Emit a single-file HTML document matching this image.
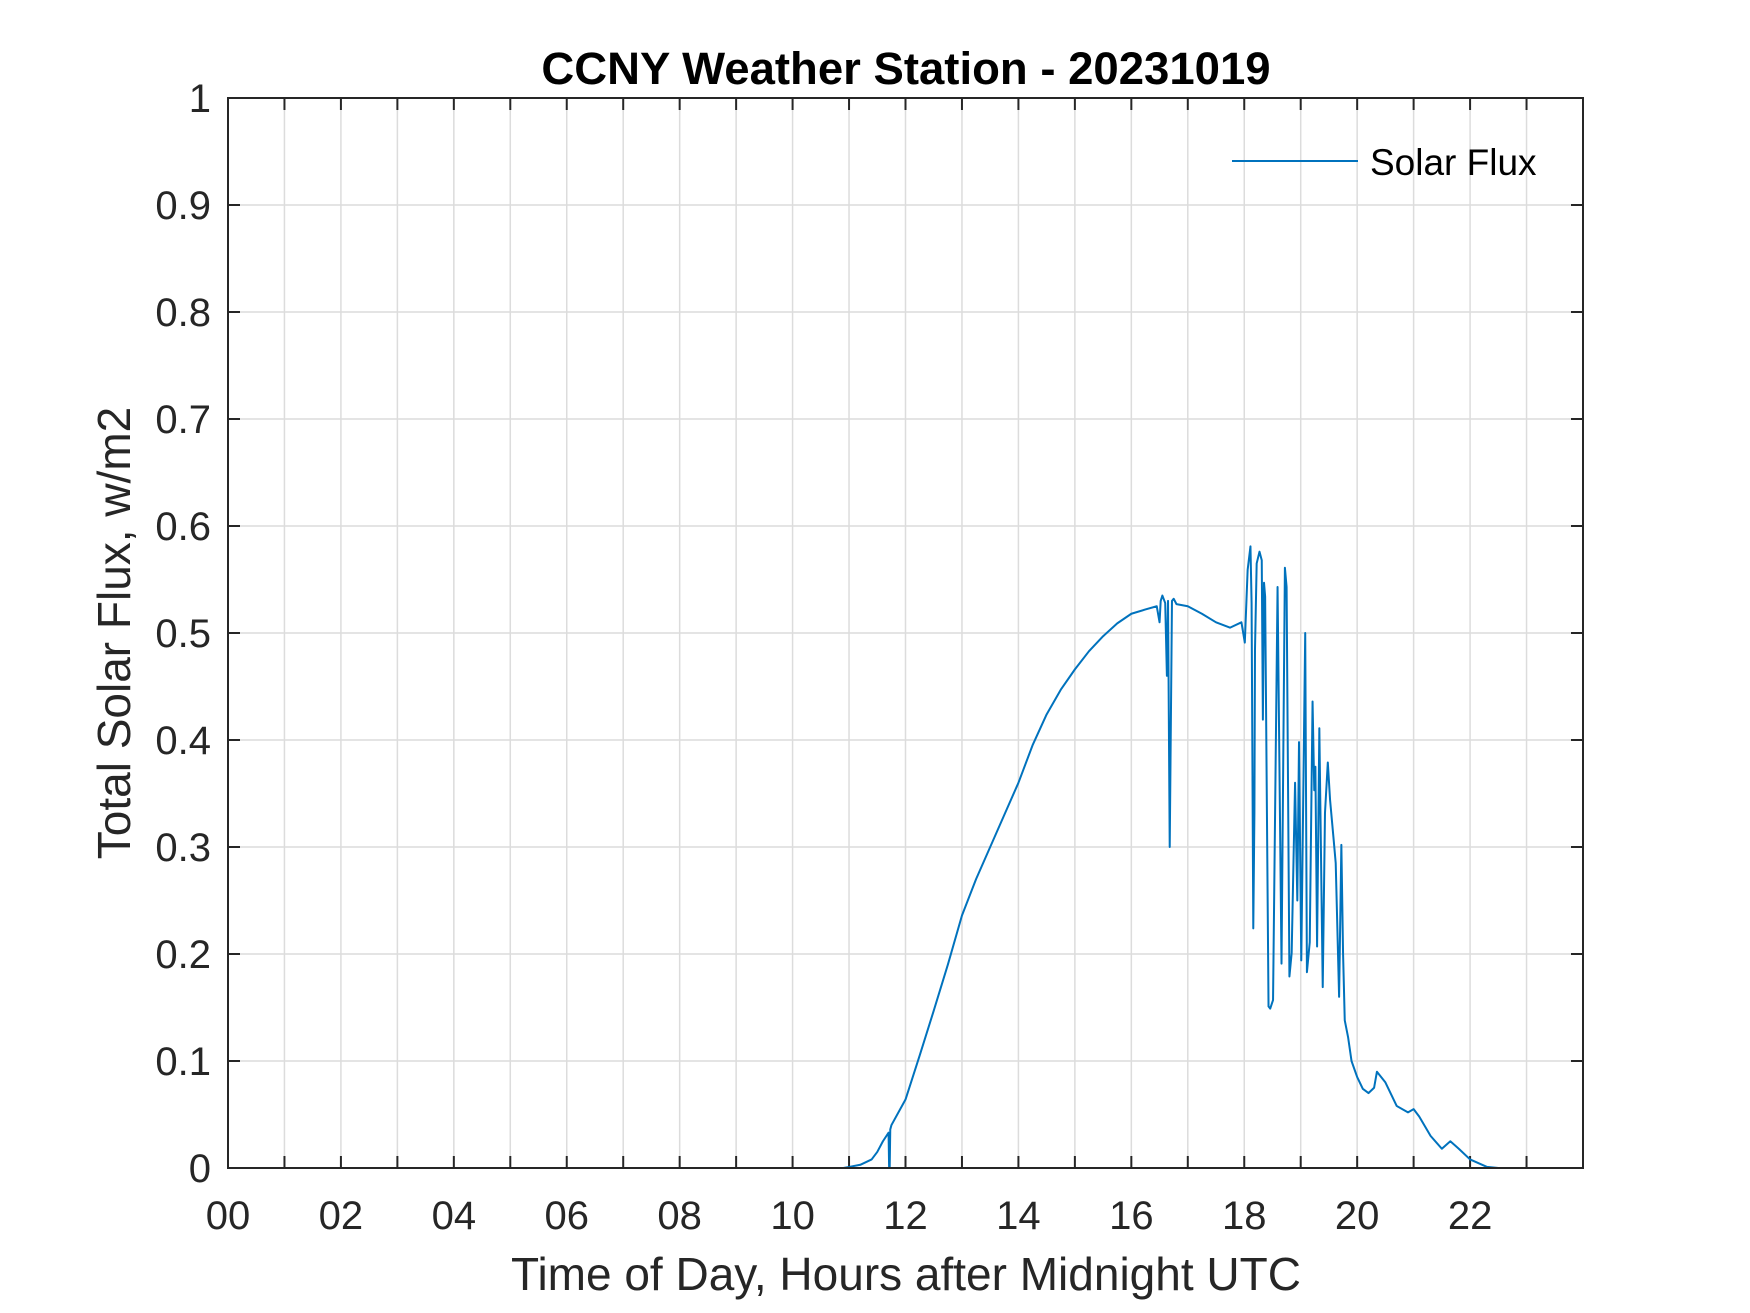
<!DOCTYPE html>
<html><head><meta charset="utf-8"><style>
body{margin:0;background:#fff;}
svg{display:block;font-family:"Liberation Sans",Arial,sans-serif;}
</style></head><body>
<svg id="chart" width="1750" height="1313" viewBox="0 0 1750 1313" xmlns="http://www.w3.org/2000/svg">
<rect x="0" y="0" width="1750" height="1313" fill="#fff"/>
<g id="grid"></g>
<g id="ticks"></g>
<g id="series"></g>
<rect x="228" y="98" width="1355" height="1070" fill="none" stroke="#262626" stroke-width="2"/>
<text x="906" y="84" text-anchor="middle" font-size="45.5" font-weight="bold" fill="#000">CCNY Weather Station - 20231019</text>
<text x="906" y="1290" text-anchor="middle" font-size="46" fill="#262626">Time of Day, Hours after Midnight UTC</text>
<text transform="translate(130,633) rotate(-90)" text-anchor="middle" font-size="46" fill="#262626">Total Solar Flux, w/m2</text>
<g>
<line x1="1232" y1="161" x2="1358" y2="161" stroke="#0072BD" stroke-width="2"/>
<text x="1370" y="175" font-size="37" fill="#000">Solar Flux</text>
</g>
</svg>
<script>
const hours = [0,10.9,11.0,11.2,11.4,11.5,11.6,11.7,11.71,11.72,11.73,11.75,12.0,12.25,12.5,12.75,13.0,13.25,13.5,13.75,14.0,14.25,14.5,14.75,15.0,15.25,15.5,15.75,16.0,16.25,16.45,16.5,16.52,16.55,16.6,16.63,16.65,16.68,16.72,16.75,16.8,17.0,17.25,17.5,17.75,17.95,18.01,18.06,18.11,18.13,18.16,18.18,18.19,18.22,18.27,18.31,18.33,18.35,18.37,18.43,18.46,18.51,18.59,18.66,18.72,18.75,18.80,18.84,18.90,18.94,18.97,19.01,19.08,19.11,19.16,19.21,19.24,19.26,19.29,19.33,19.39,19.43,19.48,19.52,19.58,19.62,19.68,19.72,19.75,19.78,19.84,19.9,20.0,20.1,20.2,20.3,20.35,20.5,20.7,20.9,21.0,21.1,21.3,21.5,21.65,21.8,22.0,22.3,22.5,24];
const flux = [0,0,0.001,0.003,0.008,0.015,0.025,0.033,0.0,0.0,0.036,0.04,0.064,0.105,0.147,0.19,0.236,0.27,0.30,0.33,0.36,0.395,0.424,0.447,0.466,0.483,0.497,0.509,0.518,0.522,0.525,0.51,0.53,0.535,0.528,0.46,0.53,0.30,0.53,0.532,0.527,0.525,0.518,0.51,0.505,0.51,0.491,0.559,0.581,0.528,0.224,0.332,0.484,0.565,0.576,0.568,0.419,0.547,0.534,0.151,0.149,0.157,0.543,0.191,0.561,0.543,0.179,0.201,0.360,0.250,0.398,0.194,0.500,0.183,0.211,0.436,0.353,0.375,0.207,0.411,0.169,0.332,0.379,0.344,0.309,0.285,0.160,0.302,0.201,0.138,0.122,0.1,0.085,0.074,0.07,0.075,0.09,0.08,0.058,0.052,0.055,0.048,0.03,0.018,0.025,0.018,0.008,0.001,0,0];
const xTickLabels = ["00","02","04","06","08","10","12","14","16","18","20","22"];
const yTickLabels = ["0","0.1","0.2","0.3","0.4","0.5","0.6","0.7","0.8","0.9","1"];

const NS="http://www.w3.org/2000/svg";
const L=228,R=1583,T=98,B=1168;
const xs=h=>L+(h/24)*(R-L);
const ys=v=>B-(v/1)*(B-T);
function mk(tag,parent,attrs){const e=document.createElementNS(NS,tag);for(const k in attrs)e.setAttribute(k,attrs[k]);parent.appendChild(e);return e;}
const grid=document.getElementById('grid'),ticks=document.getElementById('ticks'),series=document.getElementById('series');
for(let h=0;h<=24;h++){
  const x=xs(h);
  const g=mk('line',grid,{x1:x,y1:T,x2:x,y2:B,stroke:'#dcdcdc','stroke-width':1.5});
  
  
  const t1=mk('line',ticks,{x1:x,y1:B,x2:x,y2:B-12,stroke:'#262626','stroke-width':2});
  
  
  const t2=mk('line',ticks,{x1:x,y1:T,x2:x,y2:T+12,stroke:'#262626','stroke-width':2});
  
  
}
xTickLabels.forEach((lab,i)=>{
  const t=mk('text',ticks,{x:xs(i*2),y:1229,'text-anchor':'middle','font-size':40,fill:'#262626'});
  t.textContent=lab;
  
  
});
yTickLabels.forEach((lab,i)=>{
  const v=i/10,y=ys(v);
  const g=mk('line',grid,{x1:L,y1:y,x2:R,y2:y,stroke:'#dcdcdc','stroke-width':1.5});
  
  
  const a=mk('line',ticks,{x1:L,y1:y,x2:L+12,y2:y,stroke:'#262626','stroke-width':2});
  
  
  const b=mk('line',ticks,{x1:R,y1:y,x2:R-12,y2:y,stroke:'#262626','stroke-width':2});
  
  
  const t=mk('text',ticks,{x:211,y:y+14,'text-anchor':'end','font-size':40,fill:'#262626'});
  t.textContent=lab;
  
  
});
const d=hours.map((h,i)=>(i?'L':'M')+xs(h).toFixed(2)+' '+ys(flux[i]).toFixed(2)).join(' ');
const p=mk('path',series,{d:d,fill:'none',stroke:'#0072BD','stroke-width':2,'stroke-linejoin':'round'});


</script>
</body></html>
